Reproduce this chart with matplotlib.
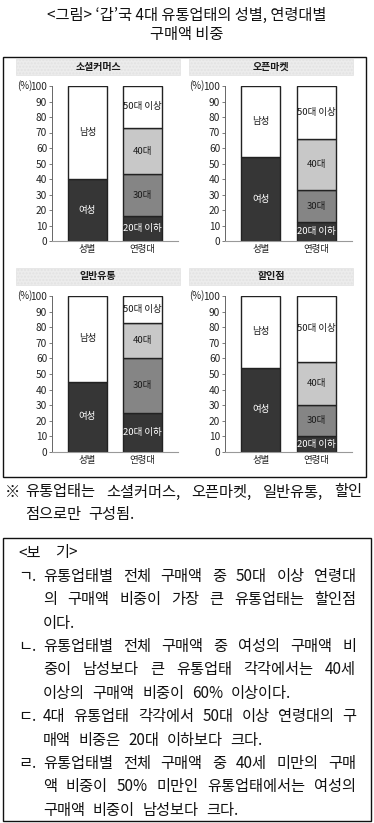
import matplotlib
matplotlib.use('Agg')
import matplotlib.pyplot as plt
from matplotlib.patches import Rectangle

plt.rcParams['font.family'] = ['Noto Sans CJK KR', 'DejaVu Sans']

# data (% of purchase amount)
channels = ['소셜커머스', '오픈마켓', '일반유통', '할인점']
female = [40, 54, 45, 54]
male = [60, 46, 55, 46]
age_20 = [16, 12, 25, 10]
age_30 = [27, 21, 35, 20]
age_40 = [30, 33, 23, 28]
age_50 = [27, 34, 17, 42]
age_names = ['20대 이하', '30대', '40대', '50대 이상']
cat_labels = ['성별', '연령대']
yticks = list(range(0, 101, 10))

W, H = 374, 823
fig = plt.figure(figsize=(W / 100, H / 100), dpi=100)
renderer = fig.canvas.get_renderer()


def fx(x):
    return x / W


def fy(y):
    return 1 - y / H


def box(x0, y0, x1, y1, **kw):
    fig.add_artist(Rectangle((fx(x0), fy(y1)), fx(x1) - fx(x0), fy(y0) - fy(y1),
                             transform=fig.transFigure, **kw))


dark = '#363636'
seg_colors = [dark, '#858585', '#c8c8c8', 'white']
seg_text = ['white', '#1a1a1a', '#1a1a1a', '#1a1a1a']

# panel geometry in pixels: axes left/right/top/bottom, band top/bottom
cols = [(52, 178, 16, 180), (225, 352, 189, 353)]
rows = [(86, 241, 59, 75), (296, 452, 268, 285)]

for i, name in enumerate(channels):
    left, right, bx0, bx1 = cols[i % 2]
    top, bottom, by0, by1 = rows[i // 2]
    box(bx0, by0, bx1, by1, facecolor='#ececec', edgecolor='#e2e2e2', lw=0.5,
        hatch='.....')
    fig.text(fx((bx0 + bx1) / 2), fy((by0 + by1) / 2), name, ha='center', va='center',
             fontsize=7.2, fontweight='bold', color='#1a1a1a')

    ax = fig.add_axes([fx(left), fy(bottom), fx(right) - fx(left), fy(top) - fy(bottom)])
    ax.set_xlim(-0.645, 1.645)
    ax.set_ylim(0, 100)
    bw = 0.71
    ek = dict(edgecolor='#222222', linewidth=1.0)
    ax.bar([0], [female[i]], width=bw, color=dark, **ek)
    ax.bar([0], [male[i]], bottom=[female[i]], width=bw, color='white', **ek)
    ax.text(0, female[i] / 2, '여성', ha='center', va='center', fontsize=6.8, color='white')
    ax.text(0, female[i] + male[i] / 2, '남성', ha='center', va='center', fontsize=6.8,
            color='#1a1a1a')

    vals = [age_20[i], age_30[i], age_40[i], age_50[i]]
    base = 0
    for v, c, tc, lab in zip(vals, seg_colors, seg_text, age_names):
        ax.bar([1], [v], bottom=[base], width=bw, color=c, **ek)
        ax.text(1, base + v / 2, lab, ha='center', va='center', fontsize=6.8, color=tc)
        base += v

    for s in ['top', 'right']:
        ax.spines[s].set_visible(False)
    ax.spines['left'].set_color('#666666')
    ax.spines['bottom'].set_color('#999999')
    ax.spines['left'].set_linewidth(0.7)
    ax.spines['bottom'].set_linewidth(0.8)
    ax.set_yticks(yticks)
    ax.tick_params(axis='y', length=2, width=0.6, color='#666666', pad=1.5,
                   labelsize=7.3, labelcolor='#222222')
    ax.set_xticks([0, 1])
    ax.set_xticklabels(cat_labels)
    ax.tick_params(axis='x', length=0, pad=3, labelsize=6.8, labelcolor='#222222')
    ax.annotate('(%)', xy=(0, 100), xycoords=('axes fraction', 'data'),
                xytext=(-14.4, 0), textcoords='offset points', ha='right', va='center',
                fontsize=7, color='#222222')

# frames
box(3, 57, 366, 477, facecolor='none', edgecolor='#111111', lw=1.0)
box(3, 538, 371, 821, facecolor='none', edgecolor='#111111', lw=1.0)

# title
fig.text(0.5, fy(15), '<그림> ‘갑’국 4대 유통업태의 성별, 연령대별', ha='center',
         va='center', fontsize=11, color='#111111')
fig.text(0.5, fy(34), '구매액 비중', ha='center', va='center', fontsize=11,
         color='#111111')

FS = 11
EM = FS * 100 / 72


def put_line(text, x0, x1, y, justify):
    words = text.split(' ')
    ts = [fig.text(0, fy(y), w, fontsize=FS, va='center', ha='left', color='#111111')
          for w in words]
    ws = [t.get_window_extent(renderer).width for t in ts]
    if justify and len(words) > 1:
        gap = (x1 - x0 - sum(ws)) / (len(words) - 1)
    else:
        gap = 0.5 * EM
    x = x0
    for t, w in zip(ts, ws):
        t.set_x(fx(x))
        x += w + gap


# note under chart
fig.text(fx(5), fy(492), '※', fontsize=FS, va='center', ha='left', color='#111111')
put_line('유통업태는 소셜커머스, 오픈마켓, 일반유통, 할인', 25, 362, 492, True)
put_line('점으로만 구성됨.', 25, 362, 515, False)

# <보기> box
box_lines = [
    ('ㄱ.', '유통업태별 전체 구매액 중 50대 이상 연령대', True),
    (None, '의 구매액 비중이 가장 큰 유통업태는 할인점', True),
    (None, '이다.', False),
    ('ㄴ.', '유통업태별 전체 구매액 중 여성의 구매액 비', True),
    (None, '중이 남성보다 큰 유통업태 각각에서는 40세', True),
    (None, '이상의 구매액 비중이 60% 이상이다.', False),
    ('ㄷ.', '4대 유통업태 각각에서 50대 이상 연령대의 구', True),
    (None, '매액 비중은 20대 이하보다 크다.', False),
    ('ㄹ.', '유통업태별 전체 구매액 중 40세 미만의 구매', True),
    (None, '액 비중이 50% 미만인 유통업태에서는 여성의', True),
    (None, '구매액 비중이 남성보다 크다.', False),
]
fig.text(fx(18), fy(553), '<보', fontsize=FS, va='center', ha='left', color='#111111')
fig.text(fx(55), fy(553), '기>', fontsize=FS, va='center', ha='left', color='#111111')
y = 553
for mark, txt, just in box_lines:
    y += 23.4
    if mark:
        fig.text(fx(18), fy(y), mark, fontsize=FS, va='center', ha='left', color='#111111')
    put_line(txt, 43, 356, y, just)

fig.savefig('out.png', dpi=100)
